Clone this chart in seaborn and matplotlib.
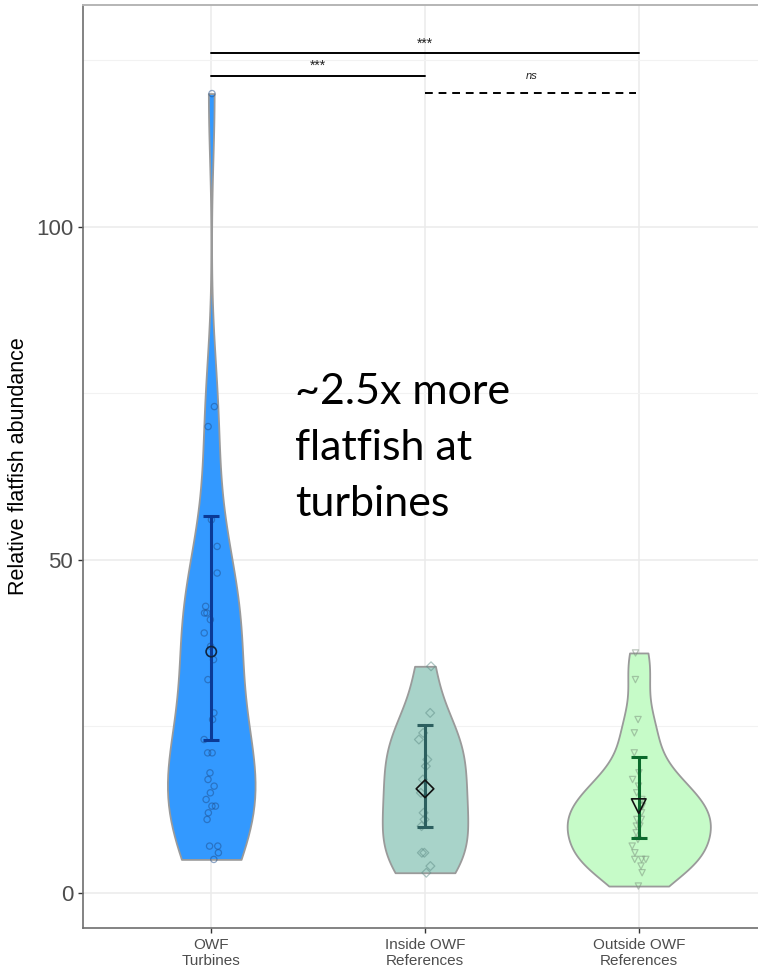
import numpy as np
import pandas as pd
import matplotlib
matplotlib.use("Agg")
import matplotlib.pyplot as plt
import seaborn as sns

# ---------------- data ----------------
categories = ["OWF\nTurbines", "Inside OWF\nReferences", "Outside OWF\nReferences"]

turbines = [120, 73, 70, 56, 52, 48, 43, 42, 42, 41, 39, 37, 35, 32, 27, 26,
            23, 21, 21, 18, 17, 16, 15, 14, 13, 13, 12, 11, 7, 7, 6, 5]
inside_ref = [34, 27, 24, 23, 20, 19, 17, 15, 12, 11, 10, 6, 6, 4, 3]
outside_ref = [36, 32, 26, 24, 21, 18, 17, 16, 15, 14, 13, 13, 12, 11, 11,
               10, 10, 9, 8, 7, 6, 5, 5, 5, 4, 3, 1]

means = [36.2, 15.6, 13.0]
ci_low = [23.0, 9.8, 8.2]
ci_high = [56.5, 25.2, 20.4]

# significance annotations: (x1, x2, y, label, dashed)
sig_pairs = [(0, 2, 126.1, "***", False),
             (0, 1, 122.7, "***", False),
             (1, 2, 120.1, "ns", True)]

annotation_text = "~2.5x more\nflatfish at\nturbines"

# ---------------- styling ----------------
fill_colors = ["#3399FF", "#A8D3C9", "#C6FBC8"]
violin_widths = [0.41, 0.40, 0.67]
point_edge = ["#1F4E8C", "#5E8C86", "#7A8F7C"]
point_markers = ["o", "D", "v"]
err_colors = ["#0B3A96", "#2C5F5F", "#0B6A2C"]
mean_edge = ["#10243E", "#111111", "#111111"]

values = [turbines, inside_ref, outside_ref]
df = pd.DataFrame({
    "group": np.repeat(categories, [len(v) for v in values]),
    "value": np.concatenate([np.asarray(v, float) for v in values]),
})

sns.set_theme(style="white")
plt.rcParams["font.family"] = ["Liberation Sans", "DejaVu Sans"]


def nrd0(kde):
    x = np.asarray(kde.dataset).ravel()
    sd = np.std(x, ddof=1)
    iqr = np.subtract(*np.percentile(x, [75, 25]))
    lo = min(sd, iqr / 1.34) if iqr > 0 else sd
    bw = 0.9 * lo * len(x) ** (-0.2)
    return bw / sd


fig = plt.figure(figsize=(7.58, 9.8), dpi=100)
W, H = 758, 980
ax = fig.add_axes([83 / W, 1 - 928 / H, (767 - 83) / W, (928 - 5) / H])

for cat, fc, wd in zip(categories, fill_colors, violin_widths):
    sub = df[df["group"] == cat]
    sns.violinplot(data=sub, x="group", y="value", order=categories,
                   color=fc, cut=0, inner=None, density_norm="area",
                   width=wd, linewidth=1.3, linecolor="#9A9A9A",
                   bw_method=nrd0, saturation=1, ax=ax, zorder=2)

np.random.seed(3)
for cat, mk, ec in zip(categories, point_markers, point_edge):
    sub = df[df["group"] == cat]
    sns.stripplot(data=sub, x="group", y="value", order=categories,
                  marker=mk, size=4.5, jitter=0.035, facecolor="none",
                  edgecolor=ec, linewidth=0.9, alpha=0.5, ax=ax, zorder=3)

for i in range(3):
    ax.errorbar(i, means[i], yerr=[[means[i] - ci_low[i]], [ci_high[i] - means[i]]],
                fmt="none", ecolor=err_colors[i], elinewidth=2.2, capsize=5.8,
                capthick=2.2, zorder=4)
    ax.scatter([i], [means[i]], marker=point_markers[i],
               s=[55, 80, 110][i], facecolor="none", edgecolor=mean_edge[i],
               linewidth=1.2, zorder=5)

for x1, x2, y, lab, dashed in sig_pairs:
    ax.plot([x1, x2 - (0.015 if dashed else 0)], [y, y], color="black", lw=1.4,
            ls=(0, (4, 3)) if dashed else "-", zorder=4)
    if dashed:
        ax.text((x1 + x2) / 2, y + 2.6, lab, ha="center", va="center",
                fontsize=8, style="italic", color="#222222")
    else:
        ax.text((x1 + x2) / 2, y + 0.4, lab, ha="center", va="bottom",
                fontsize=10, color="#222222")

ax.text(0.393, 56.5, annotation_text, ha="left", va="baseline",
        fontsize=31, family=["Lato", "DejaVu Sans"], color="black",
        linespacing=1.59, zorder=6)

# axes / theme (ggplot theme_bw look)
ax.set_xlim(-0.6, 2.6)
ax.set_ylim(-5.3, 133.3)
ax.set_yticks([0, 50, 100])
ax.set_yticks([25, 75, 125], minor=True)
ax.grid(True, which="major", color="#EBEBEB", lw=1.1, zorder=0)
ax.grid(True, which="minor", axis="y", color="#F2F2F2", lw=0.8, zorder=0)
ax.set_axisbelow(True)
ax.set_xlabel("")
ax.set_ylabel("Relative flatfish abundance", fontsize=15.5, color="black")
ax.yaxis.set_label_coords(-0.079, 0.5)
ax.tick_params(axis="both", which="major", length=3.5, width=1.0,
               color="#333333", labelsize=11, labelcolor="#4D4D4D",
               left=True, bottom=True)
ax.tick_params(axis="y", which="minor", length=0)
ax.tick_params(axis="y", labelsize=16)
for side in ["left", "bottom"]:
    ax.spines[side].set_color("#6E6E6E")
    ax.spines[side].set_linewidth(1.2)
ax.spines["top"].set_color("#B5B5B5")
ax.spines["top"].set_linewidth(1.4)
ax.spines["right"].set_color("#B5B5B5")

fig.savefig("out.png", dpi=100, facecolor="white")
